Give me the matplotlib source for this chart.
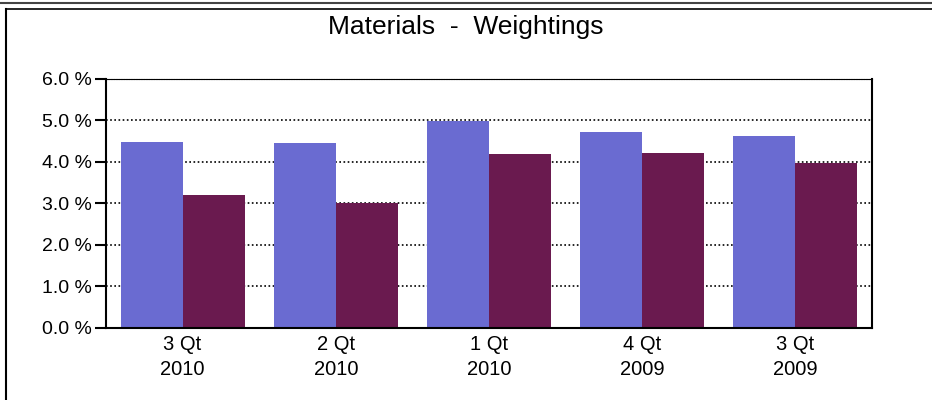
import matplotlib
matplotlib.use('Agg')
import matplotlib.pyplot as plt
from matplotlib.lines import Line2D
import numpy as np

plt.rcParams['font.family'] = ['Liberation Sans', 'DejaVu Sans']

periods = ['3 Qt\n2010', '2 Qt\n2010', '1 Qt\n2010', '4 Qt\n2009', '3 Qt\n2009']
series_a = [4.48, 4.46, 4.99, 4.72, 4.63]
series_b = [3.20, 3.00, 4.19, 4.21, 3.98]

fig = plt.figure(figsize=(9.32, 4.0), dpi=100)
ax = fig.add_axes([106 / 932, 1 - 327.7 / 400, 766 / 932, (327.7 - 79) / 400])

x = np.arange(len(periods)) + 0.5
w = 0.405
ax.bar(x - w / 2, series_a, width=w, color='#6a6bd1', zorder=2)
ax.bar(x + w / 2, series_b, width=w, color='#6a1a4f', zorder=2)

ax.set_xlim(0, 5)
ax.set_ylim(0, 6)
ax.set_yticks(np.arange(0, 7, 1))
ax.set_yticklabels(['%.1f %%' % v for v in range(7)], fontsize=14)
ax.set_xticks(x)
ax.set_xticklabels(periods, fontsize=14.5, linespacing=1.45)
ax.tick_params(axis='x', length=0, pad=5)
ax.tick_params(axis='y', length=8, width=1.5, direction='out', pad=2)
ax.grid(axis='y', color='black', linestyle=(0, (1, 1.5)), linewidth=1.2, zorder=1)
ax.spines['top'].set_linestyle((0, (1, 0.5)))
for s in ['left', 'bottom', 'right']:
    ax.spines[s].set_linewidth(1.5)

fig.text(0.5, 1 - 27 / 400, 'Materials  -  Weightings', ha='center', va='center', fontsize=19)

# outer frame
fig.add_artist(Line2D([0, 1], [1 - 2.5 / 400] * 2, color='#444444', linewidth=1.5))
fig.add_artist(Line2D([6 / 932, 1], [1 - 9 / 400] * 2, color='black', linewidth=1.2))
fig.add_artist(Line2D([6 / 932] * 2, [0, 1 - 9 / 400], color='black', linewidth=1.5))

fig.savefig('out.png', dpi=100)
